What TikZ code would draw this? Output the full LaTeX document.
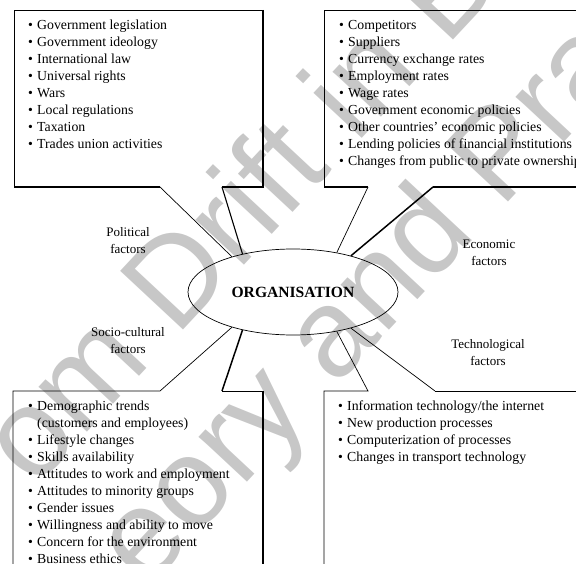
\documentclass[tikz,border=0pt]{standalone}
\usepackage{fontspec}
\setmainfont{Liberation Serif}
\newfontfamily\wmfont{Liberation Sans}
\usetikzlibrary{shapes.geometric}
\newcommand\itembul{\makebox[9pt][l]{\textbullet}}
\begin{document}
\begin{tikzpicture}[x=1pt,y=-1pt,
  thinline/.style={line width=0.7pt},
  shadowline/.style={line width=1.5pt},
  item/.style={anchor=base west, inner sep=0pt, font=\fontsize{13.8}{17}\selectfont},
  factor/.style={align=center, inner sep=0pt, font=\fontsize{13}{17}\selectfont},
  wmark/.style={rotate=47, text=black!22, inner sep=0pt, font=\wmfont\fontsize{125}{125}\selectfont}
]
\useasboundingbox (0,0) rectangle (576,564);
\clip (0,0) rectangle (576,564);

% background lettering
\node[wmark] (wm1) at (260,182) {om Drift in Bu};
\node[wmark] (wm2) at (388,284) {eory and Prac};

% central ellipse
\node[draw, ellipse, thinline, minimum width=210pt, minimum height=86pt, inner sep=0pt,
      font=\bfseries\fontsize{15.6}{17}\selectfont] (org) at (293,292) {ORGANISATION};

% pointer corners of the four callout boxes
\coordinate (tlA) at (160,187); \coordinate (tlB) at (222,187);
\coordinate (trA) at (368,187); \coordinate (trB) at (433,187);
\coordinate (blA) at (160,391); \coordinate (blB) at (222,391);
\coordinate (brA) at (368,391); \coordinate (brB) at (435,391);

% political box (top left)
\draw[thinline] (tlA) -- (org.150);
\draw[thinline] (14,187) -- (14,10) -- (263,10);
\draw[shadowline] (263,10) -- (263,187) -- (tlB);
\draw[shadowline] (tlA) -- (14,187);
\draw[line width=1.1pt] (tlB) -- (org.143);

% economic box (top right)
\draw[thinline] (trA) -- (org.42);
\draw[thinline] (324,187) -- (324,10) -- (600,10);
\draw[shadowline] (324,187) -- (trA);
\draw[shadowline] (trB) -- (600,187);
\draw[shadowline] (trB) -- (org.32);

% socio-cultural box (bottom left)
\draw[thinline] (13,600) -- (13,391) -- (blA) -- (org.210);
\draw[thinline] (blB) -- (263,391);
\draw[shadowline] (263,391) -- (263,600);
\draw[shadowline] (blB) -- (org.217);

% technological box (bottom right)
\draw[thinline] (324,600) -- (324,391) -- (brA) -- (org.318);
\draw[thinline] (brB) -- (org.328);
\draw[thinline] (brB) -- (600,391);

% factor labels
\node[factor] (lpol) at (128,241) {Political\\factors};
\node[factor] (leco) at (489,253) {Economic\\factors};
\node[factor] (lsoc) at (128,341) {Socio-cultural\\factors};
\node[factor] (ltec) at (488,353) {Technological\\factors};

% political list
\foreach \t [count=\i] in {Government legislation, Government ideology, International law,
  Universal rights, Wars, Local regulations, Taxation, Trades union activities}
  \node[item] (pol\i) at (28,{29.5+17*(\i-1)}) {\itembul\t};

% economic list
\foreach \t [count=\i] in {Competitors, Suppliers, Currency exchange rates, Employment rates,
  Wage rates, Government economic policies, Other countries' economic policies,
  Lending policies of financial institutions, Changes from public to private ownership}
  \node[item] (eco\i) at (339,{29.5+17*(\i-1)}) {\itembul\t};

% socio-cultural list
\node[item] (soc0) at (28,410) {\itembul Demographic trends};
\node[item] (soc0b) at (37,427) {(customers and employees)};
\foreach \t [count=\i] in {Lifestyle changes, Skills availability, Attitudes to work and employment,
  Attitudes to minority groups, Gender issues, Willingness and ability to move,
  Concern for the environment, Business ethics}
  \node[item] (soc\i) at (28,{444+17*(\i-1)}) {\itembul\t};

% technological list
\foreach \t [count=\i] in {Information technology/the internet, New production processes,
  Computerization of processes, Changes in transport technology}
  \node[item] (tec\i) at (338,{410.5+17*(\i-1)}) {\itembul\t};
\end{tikzpicture}
\end{document}
